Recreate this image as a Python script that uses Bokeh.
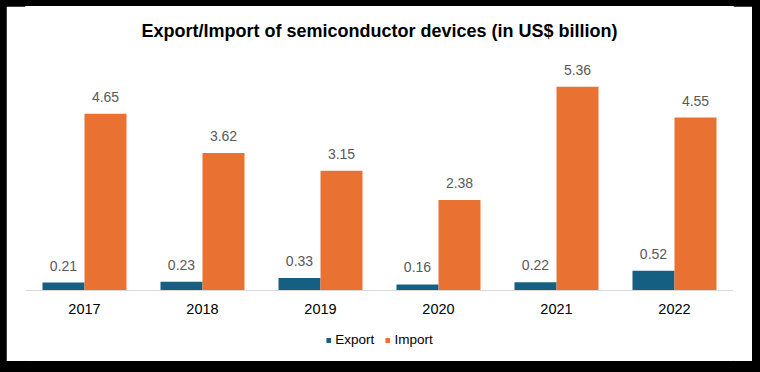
from bokeh.plotting import figure
from bokeh.models import (ColumnDataSource, FactorRange, Range1d, LabelSet, Legend,
                          LegendItem, GlobalInlineStyleSheet, Label)
from bokeh.core.properties import value
from bokeh.transform import dodge
from bokeh.embed import file_html
from bokeh.resources import INLINE

years = ["2017", "2018", "2019", "2020", "2021", "2022"]
export_vals = [0.21, 0.23, 0.33, 0.16, 0.22, 0.52]
import_vals = [4.65, 3.62, 3.15, 2.38, 5.36, 4.55]
export_labels = [f"{v:.2f}" for v in export_vals]
import_labels = [f"{v:.2f}" for v in import_vals]
title_text = "Export/Import of semiconductor devices (in US$ billion)"

EXPORT_COLOR = "#156082"
IMPORT_COLOR = "#E97132"
FONT = "Liberation Sans"

src = ColumnDataSource(dict(year=years, exp=export_vals, imp=import_vals,
                            exp_lab=export_labels, imp_lab=import_labels))

p = figure(frame_width=708, frame_height=355, output_backend="svg", toolbar_location=None,
           x_range=FactorRange(factors=years, range_padding=0),
           y_range=Range1d(-1.868, 7.474),
           min_border_left=19, min_border_right=19, min_border_top=0,
           min_border_bottom=0)

p.stylesheets = [GlobalInlineStyleSheet(
    css="html, body { background-color: #000000; } body { margin: 6px; }")]

p.background_fill_color = "white"
p.border_fill_color = "white"
p.outline_line_color = "white"
p.outline_line_width = 1
p.grid.visible = False
p.yaxis.visible = False

bw = 0.356
r_exp = p.vbar(x=dodge("year", -bw / 2, range=p.x_range), top="exp", width=bw,
               source=src, fill_color=EXPORT_COLOR, line_color=None)
r_imp = p.vbar(x=dodge("year", bw / 2, range=p.x_range), top="imp", width=bw,
               source=src, fill_color=IMPORT_COLOR, line_color=None)

for col, lab, off in (("exp", "exp_lab", -bw / 2), ("imp", "imp_lab", bw / 2)):
    ls = LabelSet(x=dodge("year", off, range=p.x_range), y=col, text=lab, source=src,
                  text_align="center", text_baseline="alphabetic", y_offset=12,
                  text_font=value(FONT), text_font_size=value("14px"),
                  text_color="#595959")
    p.add_layout(ls)

# chart title, centred over the plot area
p.add_layout(Label(x=len(years) / 2, y=6.84, text=title_text, text_align="center",
                   text_baseline="middle", text_font=FONT, text_font_size="18px",
                   text_font_style="bold", text_color="#000000"))

xa = p.xaxis[0]
xa.fixed_location = 0
xa.axis_line_color = "#d9d9d9"
xa.axis_line_width = 1
xa.major_tick_line_color = None
xa.minor_tick_line_color = None
xa.major_label_text_font = FONT
xa.major_label_text_font_size = "14.5px"
xa.major_label_text_color = "#000000"
xa.major_label_standoff = 7

legend = Legend(items=[LegendItem(label="Export", renderers=[r_exp]),
                       LegendItem(label="Import", renderers=[r_imp])],
                orientation="horizontal", location="bottom_center",
                glyph_width=6, glyph_height=6, label_height=14, label_standoff=4,
                spacing=10,
                label_text_font=FONT, label_text_font_size="13.5px",
                label_text_color="#000000", border_line_color=None,
                background_fill_alpha=0, margin=14, padding=0)
p.add_layout(legend, "center")

open("out.html", "w").write(file_html(p, INLINE))
